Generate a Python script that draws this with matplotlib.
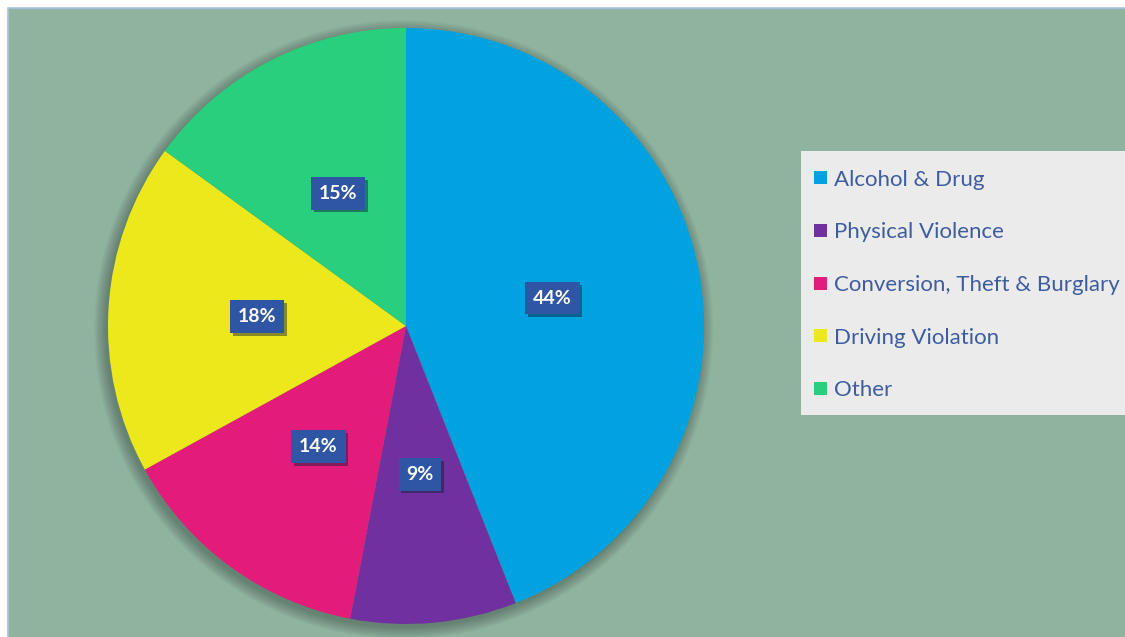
import matplotlib
matplotlib.use("Agg")
import matplotlib.pyplot as plt
import matplotlib.patheffects as pe
from matplotlib.patches import Rectangle, Circle

# data
categories = ["Alcohol & Drug", "Physical Violence", "Conversion, Theft & Burglary",
              "Driving Violation", "Other"]
shares = [44, 9, 14, 18, 15]
colors = ["#00A3E0", "#7030A0", "#E31B7A", "#EDE81B", "#28D07D"]

plt.rcParams['font.family'] = ['Lato', 'DejaVu Sans']

W, H = 1125, 637
fig = plt.figure(figsize=(W / 100, H / 100), dpi=100)
fig.patch.set_facecolor("white")

# chart area background (behind the pie axes), runs off the right/bottom edges
fig.patches.append(Rectangle((8 / W, -0.05), 1.1, 1.05 - 8 / H, transform=fig.transFigure,
                             facecolor="#8FB39E", edgecolor="#A9C1E8", linewidth=1.2,
                             zorder=-5))

# pie axes: centre (406, 326) px, radius 298 px
cx, cy, r = 406, 326, 298
ax = fig.add_axes([(cx - r) / W, (H - cy - r) / H, 2 * r / W, 2 * r / H])
ax.set_facecolor("none")

# soft shadow around the pie
for k in range(14):
    ax.add_patch(Circle((-0.008, -0.012), 1.0 + 0.003 * k, facecolor="black",
                        edgecolor="none", alpha=0.018, zorder=0, clip_on=False))

wedges, _, autotexts = ax.pie(shares, colors=colors, startangle=90, counterclock=False,
                              autopct='%1.0f%%', pctdistance=0.5,
                              wedgeprops=dict(linewidth=0, zorder=2))
ax.set_xlim(-1, 1)
ax.set_ylim(-1, 1)
ax.set_aspect("equal")
ax.axis("off")

for t in autotexts:
    t.set_fontsize(14)
    t.set_fontweight("bold")
    t.set_color("white")
    t.set_zorder(4)
    t.set_bbox(dict(boxstyle="square,pad=0.4", facecolor="#2F55A5", edgecolor="none"))
    t.get_bbox_patch().set_path_effects([pe.SimplePatchShadow(offset=(2, -2), alpha=0.45),
                                         pe.Normal()])

# legend
lx0, ly0, lx1, ly1 = 801, 151, 1125, 415
fig.patches.append(Rectangle((lx0 / W, 1 - ly1 / H), (lx1 - lx0) / W, (ly1 - ly0) / H,
                             transform=fig.transFigure, facecolor="#EBEBEB",
                             edgecolor="none", zorder=1))
for i, (name, c) in enumerate(zip(categories, colors)):
    yy = 178 + i * 52.5
    fig.patches.append(Rectangle((814 / W, 1 - (yy + 6.5) / H), 13 / W, 13 / H,
                                 transform=fig.transFigure, facecolor=c,
                                 edgecolor="none", zorder=2))
    fig.text(834 / W, 1 - (yy + 2) / H, name, ha="left", va="center", fontsize=16,
             color="#3D5DA0", zorder=3)

fig.savefig("out.png", dpi=100)
